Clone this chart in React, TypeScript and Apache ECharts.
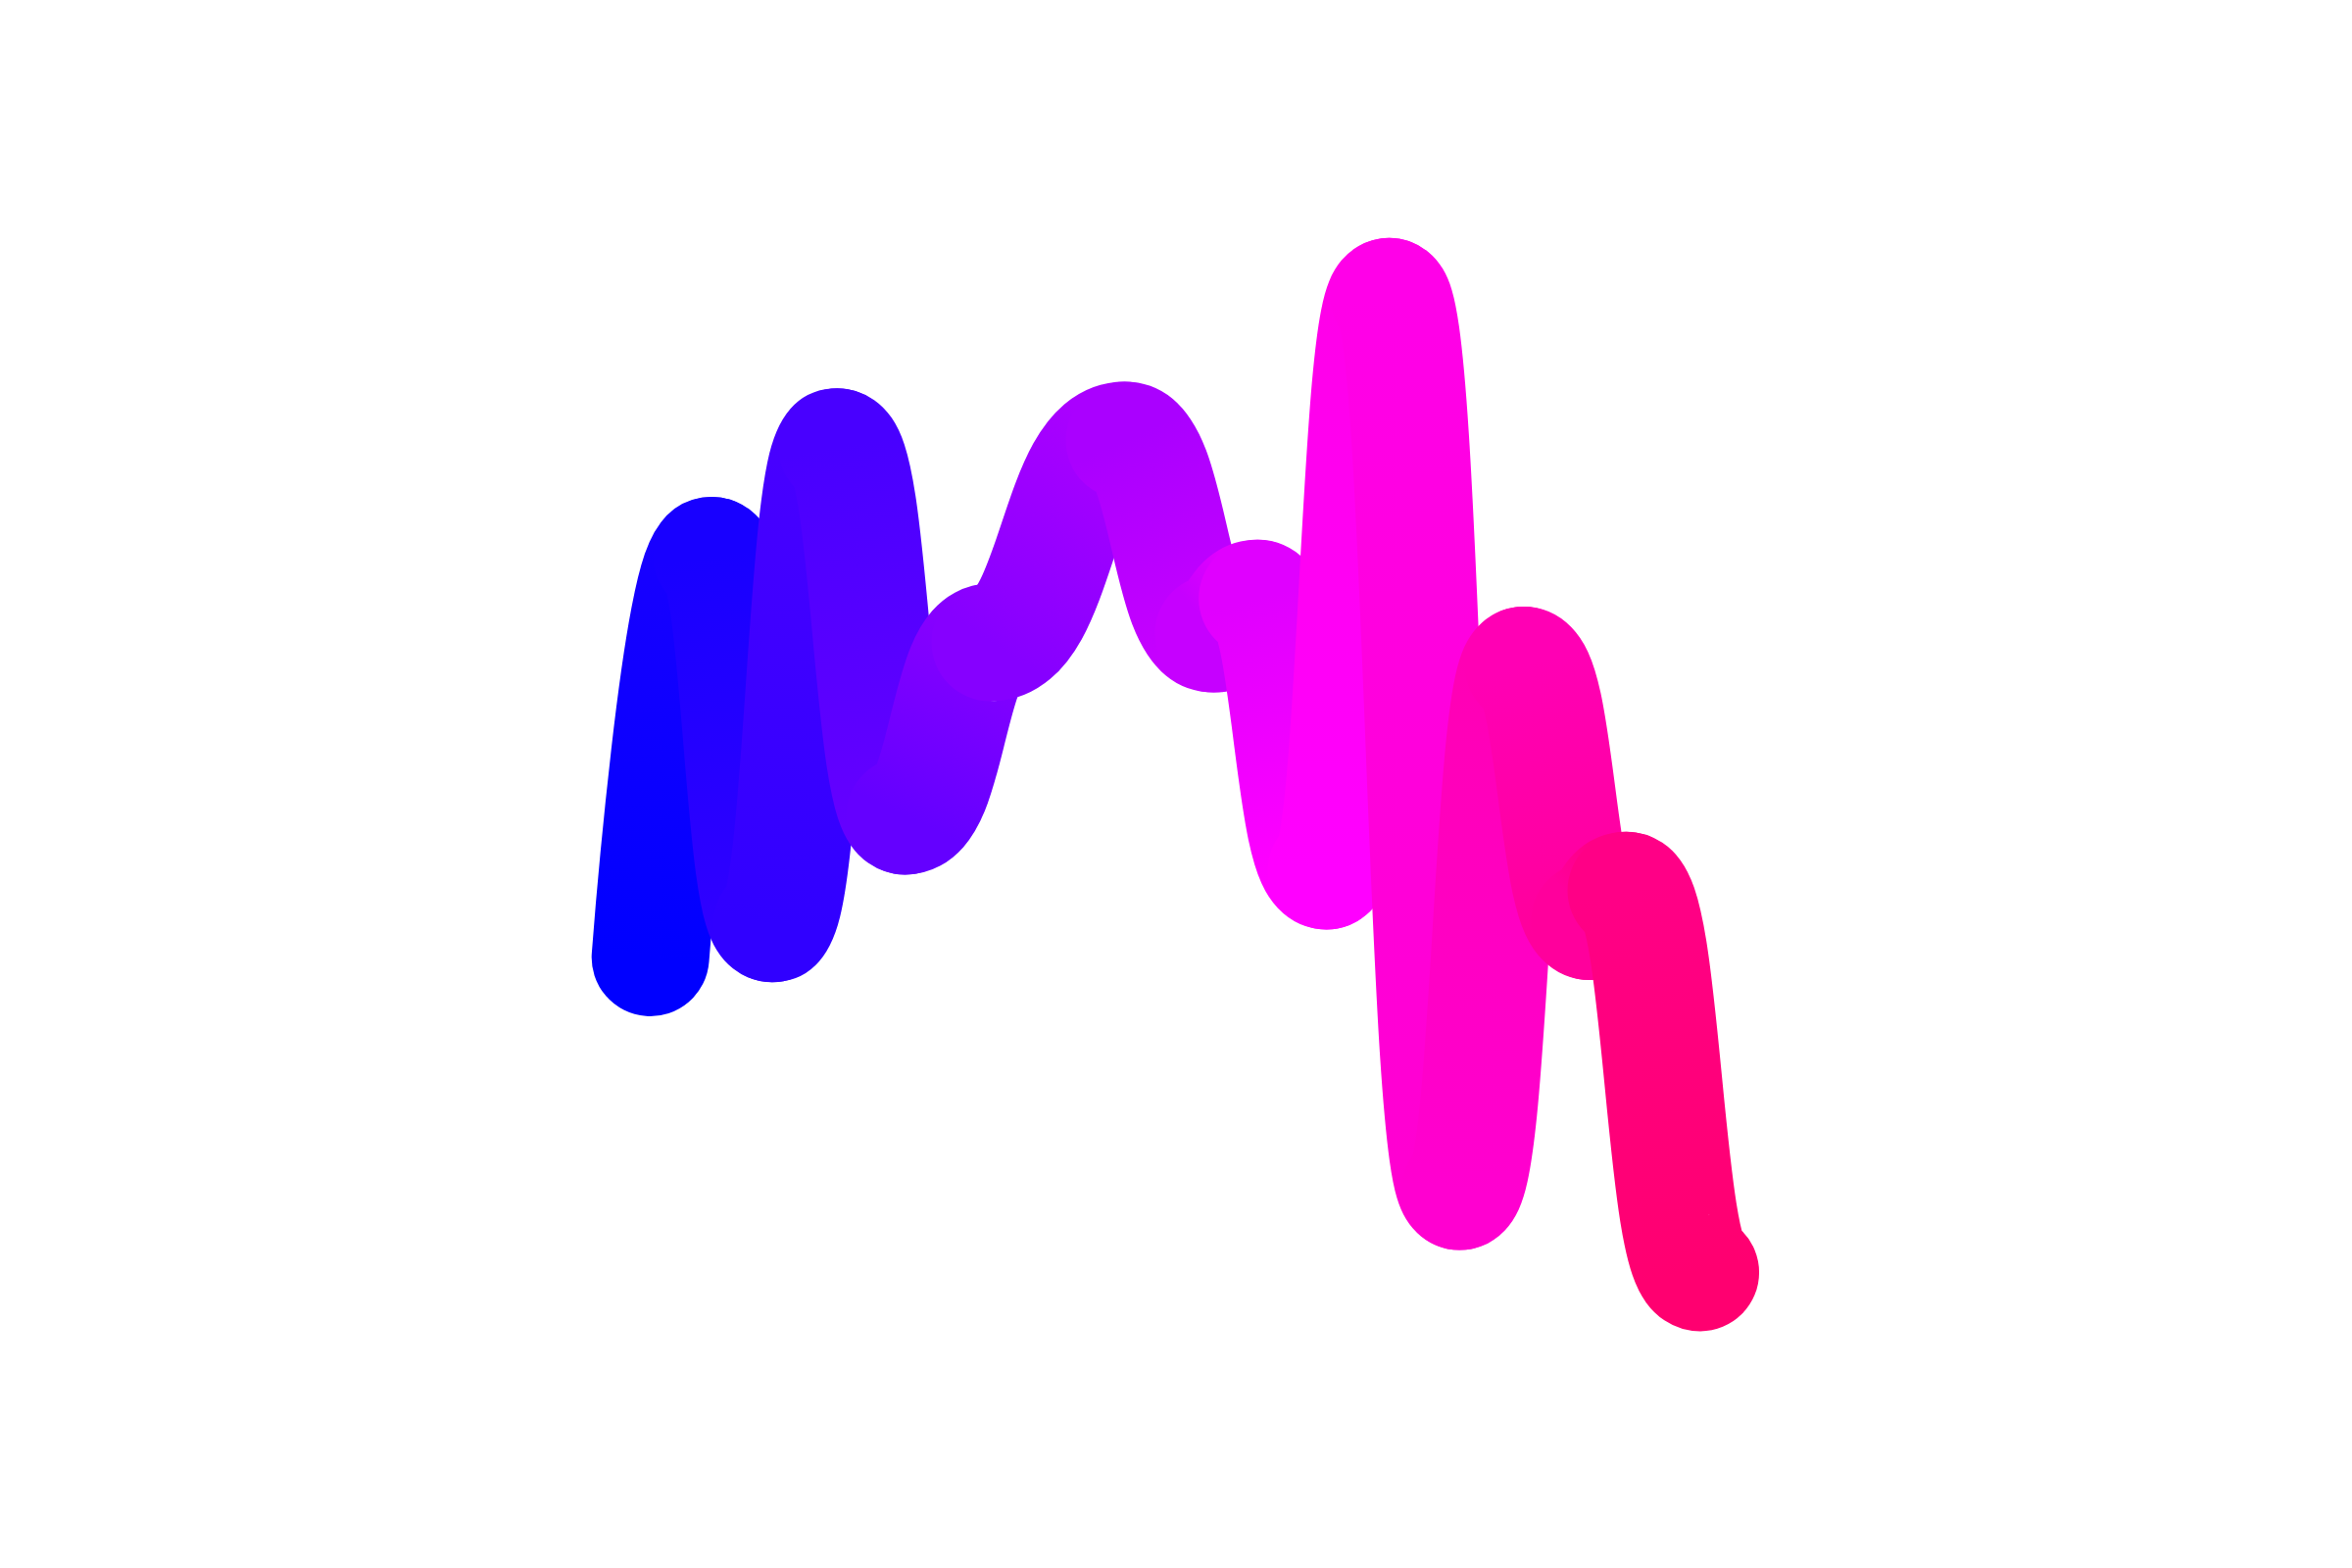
import React, { useEffect, useRef } from "react";
import * as echarts from "echarts";

// Point positions (value space: x 0..100, y 0..100)
const xValues = [8.1, 13.0, 17.8, 23.0, 28.4, 35.2, 45.9, 53.0, 56.5, 62.0, 67.0, 72.6, 77.7, 83.0, 85.9, 91.8];
const yValues = [34.2, 70.8, 37.3, 80.7, 47.1, 62.9, 81.3, 63.7, 66.9, 42.1, 94.4, 12.9, 60.8, 37.5, 40.3, 5.5];
// Colour at each point (blue -> magenta -> pink)
const pointColors = [
  "#0000ff", "#1800ff", "#3000ff", "#4800ff", "#6400ff", "#8600ff",
  "#aa00ff", "#c600ff", "#e000ff", "#ff00ff", "#ff00e8", "#ff00d0",
  "#ff00b4", "#ff009c", "#ff0086", "#ff0070",
];

export default function App() {
  const ref = useRef<HTMLDivElement>(null);
  useEffect(() => {
    if (!ref.current) return;
    const chart = echarts.init(ref.current, undefined, { renderer: "svg" });
    const data = xValues.map((x, i) => [x, yValues[i]]);
    chart.setOption({
      animation: false,
      backgroundColor: "#ffffff",
      grid: { left: 560, right: 560, top: 240, bottom: 240 },
      xAxis: { type: "value", min: 0, max: 100, show: false },
      yAxis: { type: "value", min: 0, max: 100, show: false },
      series: [
        {
          type: "custom",
          data,
          clip: false,
          renderItem: (params: any, api: any) => {
            const i = params.dataIndex;
            if (i >= xValues.length - 1) return null;
            const p0 = api.coord([xValues[i], yValues[i]]);
            const p1 = api.coord([xValues[i + 1], yValues[i + 1]]);
            const mx = (p0[0] + p1[0]) / 2;
            const c1x = i === 0 ? p0[0] : mx;
            return {
              type: "bezierCurve",
              shape: {
                x1: p0[0], y1: p0[1],
                cpx1: c1x, cpy1: p0[1],
                cpx2: mx, cpy2: p1[1],
                x2: p1[0], y2: p1[1],
              },
              style: {
                fill: null,
                stroke: new echarts.graphic.LinearGradient(
                  p0[0], p0[1], p1[0], p1[1],
                  [
                    { offset: 0, color: pointColors[i] },
                    { offset: 1, color: pointColors[i + 1] },
                  ],
                  true
                ),
                lineWidth: 120,
                lineCap: "round",
              },
            };
          },
        },
      ],
    });
    return () => chart.dispose();
  }, []);
  return (
    <div
      ref={ref}
      style={{ position: "fixed", left: 0, top: 0, width: "2400px", height: "1600px" }}
    />
  );
}
